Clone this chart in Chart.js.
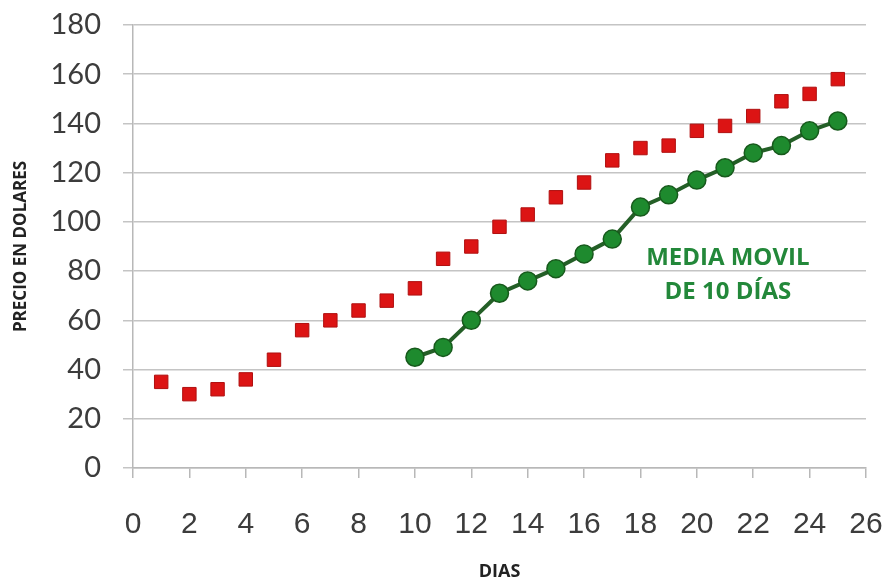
<!DOCTYPE html>
<html>
<head>
<meta charset="utf-8">
<script src="https://cdn.jsdelivr.net/npm/chart.js@4"></script>
<style>
  html, body { margin: 0; padding: 0; background: #fff; }
  #wrap { width: 887px; height: 583px; }
</style>
</head>
<body>
<div id="wrap"><canvas id="chart" width="887" height="583"></canvas></div>
<script>
// precio diario
const dias = [1, 2, 3, 4, 5, 6, 7, 8, 9, 10, 11, 12, 13, 14, 15, 16, 17, 18, 19, 20, 21, 22, 23, 24, 25];
const precios = [35, 30, 32, 36, 44, 56, 60, 64, 68, 73, 85, 90, 98, 103, 110, 116, 125, 130, 131, 137, 139, 143, 149, 152, 158];

// media movil de 10 dias
const diasMedia = [10, 11, 12, 13, 14, 15, 16, 17, 18, 19, 20, 21, 22, 23, 24, 25];
const media = [45, 49, 60, 71, 76, 81, 87, 93, 106, 111, 117, 122, 128, 131, 137, 141];

const xTicks = [0, 2, 4, 6, 8, 10, 12, 14, 16, 18, 20, 22, 24, 26];
const yTicks = [0, 20, 40, 60, 80, 100, 120, 140, 160, 180];

const notaLineas = ["MEDIA MOVIL", "DE 10 DÍAS"];
const notaPos = { x: 21.1, y: [85.3, 71.5] };

const puntosPrecio = dias.map((d, i) => ({ x: d, y: precios[i] }));
const puntosMedia = diasMedia.map((d, i) => ({ x: d, y: media[i] }));

const nota = {
  id: "nota",
  afterDatasetsDraw(chart) {
    const ctx = chart.ctx;
    const xs = chart.scales.x;
    const ys = chart.scales.y;
    ctx.save();
    ctx.font = "bold 24px 'Open Sans'";
    ctx.fillStyle = "#23883a";
    ctx.textAlign = "center";
    ctx.textBaseline = "middle";
    notaLineas.forEach((t, i) => {
      ctx.fillText(t, xs.getPixelForValue(notaPos.x), ys.getPixelForValue(notaPos.y[i]));
    });
    ctx.restore();
  },
};

const ctx = document.getElementById("chart").getContext("2d");
new Chart(ctx, {
  type: "scatter",
  data: {
    datasets: [
      {
        label: "Precio",
        data: puntosPrecio,
        pointStyle: "rect",
        pointRadius: 9.5,
        pointHoverRadius: 9.5,
        backgroundColor: "#dc1414",
        borderColor: "#b01010",
        borderWidth: 1,
        showLine: false,
      },
      {
        label: "Media movil",
        data: puntosMedia,
        showLine: true,
        borderColor: "#245f27",
        borderWidth: 4,
        pointStyle: "circle",
        pointRadius: 9,
        pointHoverRadius: 9,
        pointBackgroundColor: "#1e8a2e",
        pointBorderColor: "#175a1c",
        pointBorderWidth: 1.5,
      },
    ],
  },
  options: {
    responsive: false,
    animation: false,
    events: [],
    layout: { padding: { top: 25, right: 21, left: 0, bottom: 0 } },
    plugins: { legend: { display: false }, tooltip: { enabled: false } },
    scales: {
      x: {
        type: "linear",
        min: 0,
        max: 26,
        afterBuildTicks: (s) => { s.ticks = xTicks.map((v) => ({ value: v })); },
        afterFit: (s) => { s.height = 115; s.paddingLeft = 0; s.paddingRight = 0; },
        grid: { drawOnChartArea: false, drawTicks: true, tickLength: 10, color: "#b8b8b8", lineWidth: 1.5 },
        border: { color: "#b8b8b8", width: 1.5 },
        ticks: {
          padding: 29,
          color: "#3c3c3c",
          font: { family: "'Liberation Sans'", size: 30 },
          maxRotation: 0,
          autoSkip: false,
        },
        title: {
          display: true,
          text: "DIAS",
          color: "#222",
          font: { family: "'Open Sans'", size: 18, weight: "bold" },
          padding: { top: 0, bottom: 0 },
        },
      },
      y: {
        min: 0,
        max: 180,
        afterBuildTicks: (s) => { s.ticks = yTicks.map((v) => ({ value: v })); },
        afterFit: (s) => { s.width = 133; s.paddingTop = 0; s.paddingBottom = 0; },
        grid: { drawTicks: true, tickLength: 10, color: "#c4c4c4", lineWidth: 1.5 },
        border: { color: "#b8b8b8", width: 1.5 },
        ticks: {
          padding: 22,
          color: "#3c3c3c",
          font: { family: "Lato", size: 29 },
        },
        title: {
          display: true,
          text: "PRECIO EN DOLARES",
          color: "#222",
          font: { family: "'Open Sans'", size: 17, weight: "bold" },
          padding: { top: 11, bottom: 0 },
        },
      },
    },
  },
  plugins: [nota],
});
</script>
</body>
</html>
